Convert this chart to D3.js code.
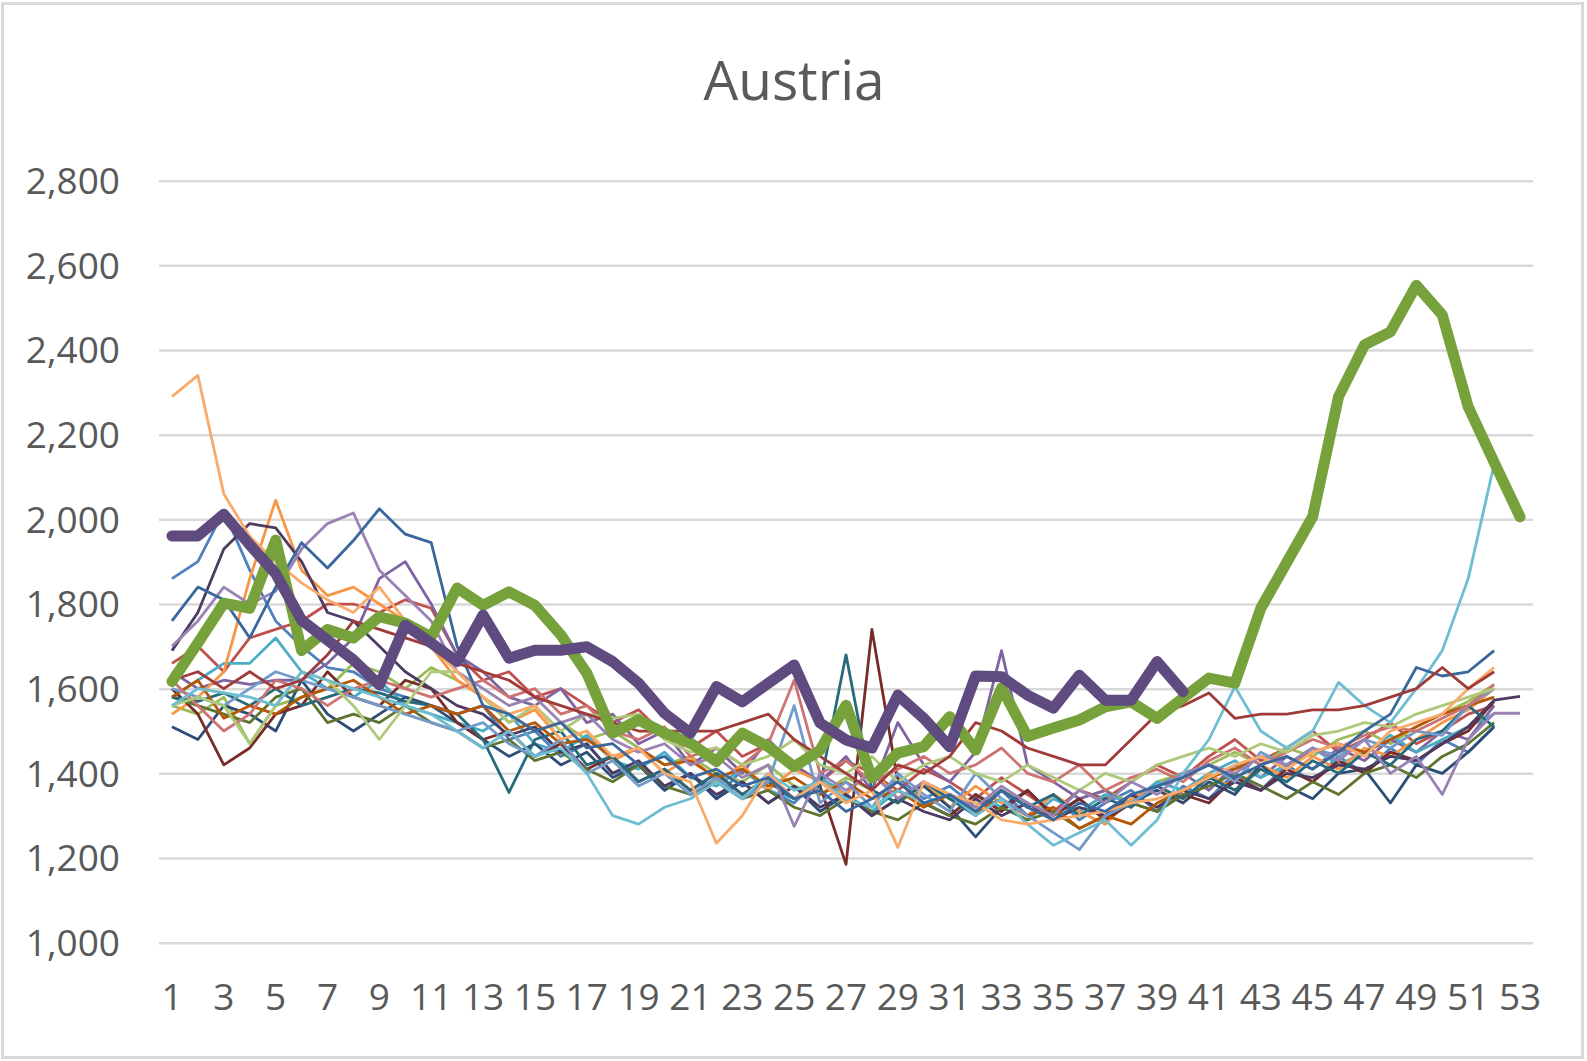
<!doctype html>
<html>
<head>
  <meta charset="utf-8">
  <style>
    body { margin: 0; background: #fff; }
    svg { display: block; }
    text { font-family: "Open Sans", "Noto Sans", sans-serif; fill: #595959; }
  </style>
  <script src="https://cdn.jsdelivr.net/npm/d3@7"></script>
</head>
<body>
<script>
// week numbers and tick labels
var weeks = d3.range(1, 54);
var xTickLabels = weeks.filter(function(w) { return w % 2 === 1; });
var yTicks = [1000, 1200, 1400, 1600, 1800, 2000, 2200, 2400, 2600, 2800];

// weekly deaths, background years (thin lines)
var y2000 = [1860,1900,2020,1880,1760,1700,1650,1640,1600,1580,1560, 1540,1560,1480,1500,1440,1470,1400,1420,1360,1400,1340,1410,1360,1330,1390,1350,1300,1390,1340,1370,1320,1360,1300,1350,1290,1330,1360,1310,1370,1340,1400,1360,1420,1380,1440,1400,1460,1420,1480,1450,1510];
var y2001 = [1660,1700,1640,1720,1740,1760,1800,1800,1780,1810,1790, 1680,1620,1640,1580,1600,1560,1520,1550,1490,1460,1500,1440,1470,1420,1380,1430,1400,1360,1410,1380,1340,1390,1350,1310,1360,1340,1380,1420,1390,1440,1480,1430,1460,1500,1450,1480,1520,1470,1500,1540,1560];
var y2002 = [1560,1540,1580,1470,1560,1580,1600,1660,1640,1600,1650, 1620,1580,1540,1500,1520,1480,1500,1460,1420,1440,1400,1380,1420,1370,1350,1390,1360,1330,1370,1340,1320,1360,1330,1300,1340,1360,1330,1380,1400,1420,1450,1420,1460,1440,1480,1500,1470,1510,1540,1570,1610];
var y2003 = [1640,1600,1620,1610,1620,1620,1660,1720,1860,1900,1800, 1680,1640,1580,1560,1600,1520,1540,1470,1500,1420,1460,1400,1480,1420,1380,1440,1360,1520,1420,1380,1450,1690,1420,1380,1340,1360,1320,1370,1400,1360,1420,1390,1440,1410,1460,1430,1480,1450,1500,1480,1560];
var y2004 = [1580,1620,1660,1660,1720,1640,1600,1580,1620,1560,1540, 1520,1500,1540,1470,1450,1490,1430,1410,1450,1390,1370,1410,1360,1340,1390,1350,1310,1360,1330,1300,1350,1320,1290,1340,1310,1350,1330,1380,1360,1400,1430,1390,1420,1460,1420,1450,1490,1450,1480,1510,1540];
var y2005 = [1540,1580,1640,1860,2045,1880,1820,1840,1800,1760,1700, 1620,1580,1520,1550,1480,1500,1430,1460,1400,1440,1380,1420,1360,1410,1380,1350,1410,1340,1380,1320,1370,1330,1300,1350,1310,1280,1340,1370,1330,1400,1360,1420,1390,1440,1410,1460,1440,1480,1520,1550,1600];
var y2006 = [1510,1480,1560,1540,1500,1620,1540,1500,1540,1580,1560, 1520,1480,1440,1470,1420,1450,1390,1420,1360,1400,1340,1380,1330,1370,1310,1350,1300,1340,1370,1320,1250,1320,1360,1300,1340,1290,1330,1360,1330,1380,1350,1420,1370,1340,1400,1410,1330,1420,1400,1450,1510];
var y2007 = [1600,1540,1420,1460,1540,1560,1640,1580,1560,1620,1600, 1520,1480,1500,1440,1470,1410,1440,1380,1410,1360,1400,1350,1390,1340,1370,1185,1740,1380,1330,1300,1350,1310,1360,1300,1340,1290,1330,1310,1350,1330,1390,1360,1410,1380,1430,1400,1450,1430,1470,1500,1570];
var y2008 = [1580,1560,1540,1520,1580,1600,1520,1540,1520,1560,1520, 1500,1460,1480,1430,1450,1410,1380,1420,1370,1350,1380,1340,1360,1320,1300,1340,1310,1290,1330,1300,1280,1320,1290,1310,1270,1300,1330,1310,1350,1370,1400,1370,1340,1380,1350,1400,1420,1390,1440,1470,1520];
var y2009 = [1690,1780,1930,1990,1980,1900,1780,1760,1700,1640,1600, 1560,1540,1490,1510,1450,1470,1400,1430,1370,1400,1350,1380,1330,1370,1320,1350,1300,1340,1310,1290,1340,1300,1330,1290,1320,1300,1350,1320,1360,1340,1380,1360,1400,1390,1420,1410,1440,1430,1470,1510,1573,1582];
var y2010 = [1580,1570,1590,1560,1600,1560,1580,1600,1590,1570,1560, 1540,1480,1355,1480,1500,1420,1440,1380,1410,1360,1400,1350,1380,1340,1370,1680,1360,1330,1380,1340,1300,1360,1320,1350,1300,1340,1320,1370,1340,1390,1360,1410,1380,1430,1400,1450,1420,1480,1500,1560,1510];
var y2011 = [1580,1620,1530,1560,1540,1580,1600,1620,1580,1540,1560, 1540,1560,1500,1520,1470,1480,1440,1460,1420,1430,1390,1410,1370,1390,1350,1380,1340,1360,1320,1350,1310,1340,1300,1320,1270,1300,1280,1330,1360,1390,1410,1440,1420,1450,1470,1450,1480,1510,1540,1560,1580];
var y2012 = [1600,1580,1560,1600,1640,1620,1600,1580,1560,1540,1520, 1500,1520,1470,1440,1480,1400,1430,1370,1400,1350,1390,1340,1380,1560,1330,1380,1320,1400,1350,1310,1400,1340,1300,1260,1220,1300,1330,1370,1400,1420,1380,1450,1420,1460,1440,1480,1460,1500,1490,1560,1600];
var y2013 = [1620,1560,1500,1540,1620,1600,1560,1600,1620,1600,1580, 1600,1620,1580,1600,1540,1560,1500,1480,1510,1440,1460,1420,1470,1620,1400,1430,1380,1410,1440,1400,1420,1460,1400,1380,1420,1360,1390,1410,1380,1430,1460,1420,1450,1480,1460,1490,1510,1500,1530,1560,1610];
var y2014 = [1560,1580,1560,1470,1560,1640,1620,1560,1480,1560,1640, 1640,1580,1520,1560,1500,1540,1530,1540,1480,1450,1460,1420,1440,1480,1420,1400,1440,1380,1420,1440,1400,1380,1420,1390,1360,1400,1380,1420,1440,1460,1440,1470,1450,1490,1500,1520,1510,1540,1560,1580,1600];
var y2015 = [1700,1760,1840,1800,1830,1930,1990,2015,1880,1820,1760, 1640,1600,1560,1580,1520,1540,1480,1450,1470,1420,1440,1390,1420,1275,1400,1360,1400,1340,1380,1350,1320,1370,1330,1300,1360,1330,1380,1350,1400,1420,1400,1440,1420,1460,1430,1480,1400,1440,1350,1480,1542,1542];
var y2016 = [1560,1600,1590,1580,1560,1640,1620,1600,1580,1560,1540, 1500,1460,1500,1440,1460,1400,1300,1280,1320,1340,1380,1340,1400,1360,1380,1340,1320,1360,1330,1350,1300,1340,1280,1230,1260,1290,1230,1290,1400,1480,1605,1500,1460,1500,1615,1560,1520,1600,1690,1860,2130];
var y2017 = [2290,2340,2060,1960,1900,1850,1810,1780,1840,1760,1700, 1640,1580,1540,1560,1480,1500,1440,1460,1400,1380,1235,1300,1400,1340,1380,1330,1360,1225,1380,1350,1330,1290,1280,1290,1300,1310,1330,1340,1360,1390,1420,1440,1410,1450,1470,1440,1500,1520,1540,1600,1650];
var y2018 = [1760,1840,1810,1720,1840,1945,1885,1950,2025,1965,1945, 1700,1560,1540,1500,1520,1460,1470,1420,1440,1390,1410,1370,1390,1340,1360,1310,1340,1380,1330,1350,1310,1360,1320,1290,1330,1310,1350,1370,1390,1420,1390,1420,1440,1410,1450,1500,1540,1650,1630,1640,1690];
var y2019 = [1620,1640,1600,1640,1600,1620,1680,1760,1740,1720,1700, 1660,1640,1620,1580,1560,1540,1520,1500,1500,1500,1500,1520,1540,1480,1440,1400,1360,1420,1400,1440,1520,1500,1460,1440,1420,1420,1480,1540,1560,1590,1530,1540,1540,1550,1550,1560,1580,1600,1650,1600,1640];

// highlighted years (thick lines)
var y2020 = [1617,1708,1802,1790,1951,1690,1740,1720,1770,1755,1722,1838,1797,1829,1797,1727,1637,1495,1526,1495,1472,1428,1495,1463,1416,1455,1561,1389,1448,1463,1534,1455,1602,1487,1507,1526,1557,1569,1530,1578,1625,1613,1790,1898,2006,2290,2412,2443,2553,2483,2266,2135,2006];
var y2021 = [1961,1961,2012,1940,1872,1762,1715,1668,1609,1750,1708,1664,1774,1672,1691,1691,1699,1664,1613,1542,1495,1605,1569,1613,1656,1519,1479,1460,1585,1530,1463,1630,1628,1585,1554,1632,1573,1573,1664,1593];

var background = [y2000, y2001, y2002, y2003, y2004, y2005, y2006, y2007, y2008, y2009,
                  y2010, y2011, y2012, y2013, y2014, y2015, y2016, y2017, y2018, y2019];
var bgColors = ["#4F81BD", "#C0504D", "#9BBB59", "#8064A2", "#4BACC6", "#F79646", "#2C4D75", "#772C2A", "#5F7530", "#4D3B62",
                "#276A7C", "#B65708", "#729ACA", "#CD7371", "#AFC97A", "#9983B5", "#6FBDD1", "#F9AB6B", "#3A679C", "#9F3B38"];

var W = 1587, H = 1061;
var plotLeft = 159, plotRight = 1533, plotTop = 180.7, plotBottom = 942.7;

var svg = d3.select("body").append("svg")
  .attr("width", W)
  .attr("height", H);

// chart frame
svg.append("rect")
  .attr("x", 2.5).attr("y", 3.5)
  .attr("width", 1580).attr("height", 1054)
  .attr("fill", "#fff")
  .attr("stroke", "#d9d9d9")
  .attr("stroke-width", 3);

var x = d3.scaleBand().domain(weeks).range([plotLeft, plotRight]).padding(0);
var y = d3.scaleLinear().domain([1000, 2800]).range([plotBottom, plotTop]);

function xc(w) { return x(w) + x.bandwidth() / 2; }

// gridlines + y labels
var yAxis = svg.append("g")
  .attr("transform", "translate(" + plotLeft + ",0)")
  .call(d3.axisLeft(y).tickValues(yTicks).tickSize(-(plotRight - plotLeft)).tickPadding(39).tickFormat(d3.format(",")));
yAxis.select(".domain").remove();
yAxis.selectAll("line").attr("stroke", "#d9d9d9").attr("stroke-width", 2.5);
yAxis.selectAll("text")
  .attr("font-size", "37px")
  .attr("fill", "#595959")
  .attr("dy", "0.35em");

// x labels
var xAxis = svg.append("g")
  .attr("transform", "translate(0," + plotBottom + ")")
  .call(d3.axisBottom(x).tickValues(xTickLabels).tickSize(0).tickPadding(41));
xAxis.select(".domain").remove();
xAxis.selectAll("text")
  .attr("font-size", "37px")
  .attr("fill", "#595959")
  .attr("dy", "0.71em");

var line = d3.line()
  .x(function(d, i) { return xc(weeks[i]); })
  .y(function(d) { return y(d); });

svg.append("g").selectAll("path")
  .data(background)
  .enter()
  .append("path")
  .attr("d", line)
  .attr("fill", "none")
  .attr("stroke", function(d, i) { return bgColors[i]; })
  .attr("stroke-width", 2.8)
  .attr("stroke-linejoin", "round");

svg.append("path")
  .attr("d", line(y2020))
  .attr("fill", "none")
  .attr("stroke", "#77A23B")
  .attr("stroke-width", 11)
  .attr("stroke-linejoin", "round")
  .attr("stroke-linecap", "round");

svg.append("path")
  .attr("d", line(y2021))
  .attr("fill", "none")
  .attr("stroke", "#5F4B80")
  .attr("stroke-width", 11)
  .attr("stroke-linejoin", "round")
  .attr("stroke-linecap", "round");

// title
svg.append("text")
  .attr("x", 794)
  .attr("y", 100)
  .attr("text-anchor", "middle")
  .attr("font-size", "55px")
  .attr("fill", "#595959")
  .text("Austria");
</script>
</body>
</html>
